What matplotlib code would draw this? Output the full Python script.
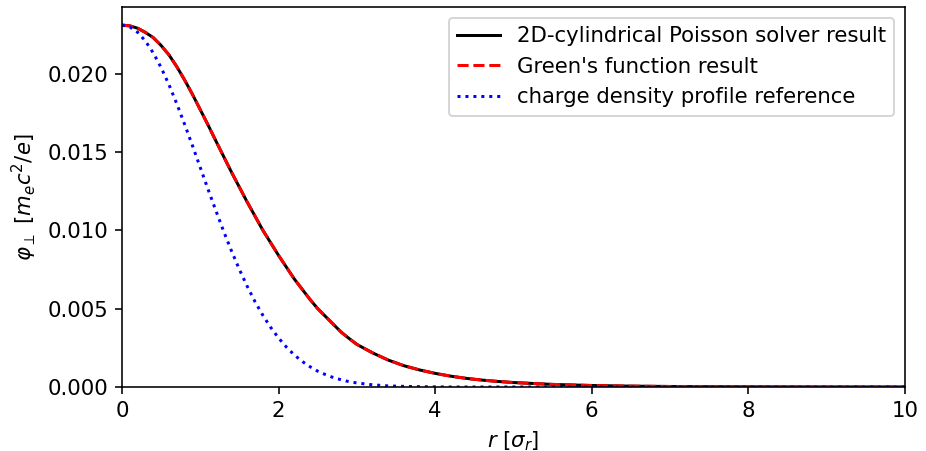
import numpy as np
import matplotlib
matplotlib.use("Agg")
import matplotlib.pyplot as plt

# radial positions in units of sigma_r
r_vals = [0.0, 0.1, 0.2, 0.3, 0.4, 0.5, 0.6, 0.7, 0.8, 0.9, 1.0, 1.1, 1.2, 1.3,
          1.4, 1.5, 1.6, 1.7, 1.8, 1.9, 2.0, 2.1, 2.2, 2.3, 2.4, 2.5, 2.6, 2.7,
          2.8, 2.9, 3.0, 3.2, 3.4, 3.6, 3.8, 4.0, 4.2, 4.4, 4.6, 4.8, 5.0, 5.5,
          6.0, 6.5, 7.0, 7.5, 8.0, 8.5, 9.0, 9.5, 10.0]

# potential (solver and Green's function coincide)
phi_solver = [0.0231, 0.02305, 0.0229, 0.02263, 0.0223, 0.0218, 0.0212, 0.02045,
              0.0196, 0.01868, 0.0177, 0.01672, 0.0157, 0.0147, 0.0137, 0.01275,
              0.0118, 0.0109, 0.0100, 0.0092, 0.0084, 0.00765, 0.0069, 0.00625,
              0.0056, 0.0050, 0.0045, 0.0040, 0.0035, 0.0031, 0.00272, 0.00218,
              0.00172, 0.00136, 0.00109, 0.00087, 0.00069, 0.00055, 0.00044,
              0.000355, 0.000285, 0.000165, 0.000096, 0.000056, 0.000033,
              0.000019, 0.000011, 0.0000066, 0.0000039, 0.0000023, 0.0000014]
phi_green = list(phi_solver)

# charge density reference, scaled to the same peak
rho_ref = [0.0231, 0.02298, 0.02264, 0.02208, 0.02132, 0.02039, 0.01930,
           0.01808, 0.01677, 0.01541, 0.01401, 0.01261, 0.01125, 0.00992,
           0.00867, 0.00750, 0.00642, 0.00544, 0.00457, 0.00380, 0.00313,
           0.00255, 0.00205, 0.00164, 0.00130, 0.00101, 0.00079, 0.00060,
           0.00046, 0.00034, 0.00026, 0.00014, 0.00007, 0.00004, 0.00002,
           0.00001, 0.0, 0.0, 0.0, 0.0, 0.0, 0.0, 0.0, 0.0, 0.0, 0.0, 0.0,
           0.0, 0.0, 0.0, 0.0]

plt.rcParams["font.size"] = 10.6

fig, ax = plt.subplots(figsize=(926 / 144, 451 / 144), dpi=144)
fig.subplots_adjust(left=0.1317, right=0.9773, bottom=0.1419, top=0.9845)

ax.plot(r_vals, phi_solver, color="black", lw=1.5, label="2D-cylindrical Poisson solver result")
ax.plot(r_vals, phi_green, color="red", ls="--", lw=1.5, label="Green's function result")
ax.plot(r_vals, rho_ref, color="blue", ls=":", lw=1.5, label="charge density profile reference")

ax.set_xlim(0, 10)
ax.set_ylim(bottom=0)
ax.set_xlabel(r"$r$ [$\sigma_r$]")
ax.set_ylabel(r"$\varphi_\perp$ [$m_e c^2/e$]")
ax.legend(loc="upper right")

fig.savefig("out.png", dpi=144)
